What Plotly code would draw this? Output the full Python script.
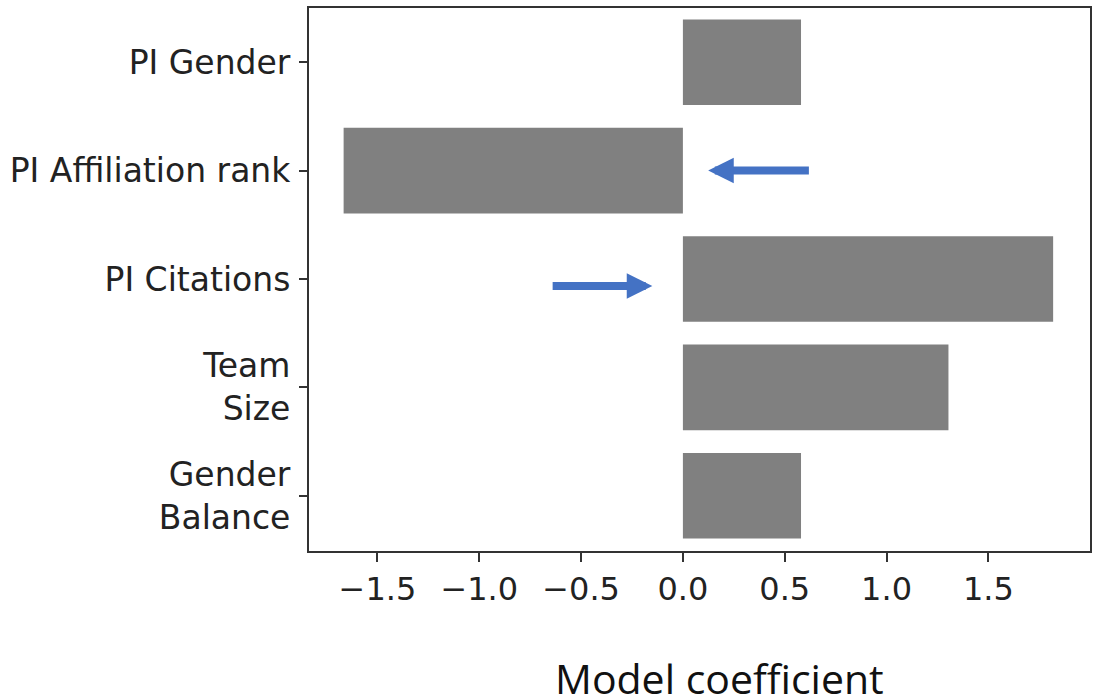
import plotly.graph_objects as go

# Data (bottom to top)
categories = ["Gender<br>Balance", "Team<br>Size", "PI Citations", "PI Affiliation rank", "PI Gender"]
coefficients = [0.58, 1.304, 1.818, -1.666, 0.58]
x_tick_values = [-1.5, -1.0, -0.5, 0.0, 0.5, 1.0, 1.5]

fig = go.Figure()
fig.add_trace(go.Bar(
    y=categories,
    x=coefficients,
    orientation="h",
    width=0.79,
    marker=dict(color="#808080", line=dict(width=0)),
    showlegend=False,
))

axis_col = "#333333"

fig.update_xaxes(
    range=[-1.836, 1.999],
    tickvals=x_tick_values,
    tickformat=".1f",
    ticks="outside",
    ticklen=9,
    tickwidth=2,
    tickcolor=axis_col,
    showline=True,
    linecolor=axis_col,
    linewidth=2,
    mirror=True,
    showgrid=False,
    zeroline=False,
    tickfont=dict(family="DejaVu Sans", size=32, color="#222222"),
    ticklabelstandoff=0,
)
fig.update_yaxes(
    type="category",
    categoryorder="array",
    categoryarray=categories,
    range=[-0.51, 4.5],
    ticks="outside",
    ticklen=8,
    tickwidth=2,
    tickcolor=axis_col,
    showline=True,
    linecolor=axis_col,
    linewidth=2,
    mirror=True,
    showgrid=False,
    zeroline=False,
    tickfont=dict(family="DejaVu Sans", size=33, color="#222222"),
    ticklabelstandoff=2,
)

arrow_col = "#4472C4"
# Arrow annotations (tip, tail) in data coordinates
arrows = [
    dict(tip=(0.124, 3.0), tail=(0.626, 3.0)),
    dict(tip=(-0.150, 1.935), tail=(-0.647, 1.935)),
]
for a in arrows:
    fig.add_annotation(
        x=a["tip"][0], y=a["tip"][1],
        ax=a["tail"][0], ay=a["tail"][1],
        xref="x", yref="y", axref="x", ayref="y",
        text="", showarrow=True,
        arrowhead=2, arrowsize=0.64, arrowwidth=8,
        arrowcolor=arrow_col, standoff=0,
    )

fig.add_annotation(
    text="Model coefficient",
    x=0.526, y=-0.234, xref="paper", yref="paper",
    xanchor="center", yanchor="middle",
    showarrow=False,
    font=dict(family="Open Sans", size=41, color="#111111"),
)

fig.update_layout(
    width=1101,
    height=700,
    margin=dict(l=309, r=11, t=6, b=149),
    paper_bgcolor="white",
    plot_bgcolor="white",
    bargap=0.2,
)

fig.write_html(
    "out.html",
    config={"displayModeBar": False},
    post_script="document.body.style.margin='0';document.body.style.overflow='hidden';",
)
